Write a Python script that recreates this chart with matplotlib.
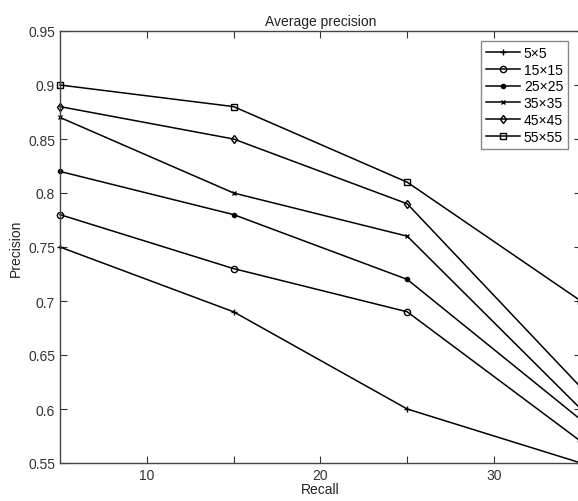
import matplotlib.pyplot as plt
from matplotlib.ticker import FixedLocator

plt.rcParams['font.family'] = ['Liberation Sans', 'DejaVu Sans']

recall = [5, 15, 25, 35]
labels = ['5×5', '15×15', '25×25', '35×35', '45×45', '55×55']
markers = ['+', 'o', '.', 'x', 'd', 's']
precision = [
    [0.75, 0.69, 0.60, 0.55],
    [0.78, 0.73, 0.69, 0.57],
    [0.82, 0.78, 0.72, 0.59],
    [0.87, 0.80, 0.76, 0.60],
    [0.88, 0.85, 0.79, 0.62],
    [0.90, 0.88, 0.81, 0.70],
]
yticks = [0.55, 0.6, 0.65, 0.7, 0.75, 0.8, 0.85, 0.9, 0.95]
ytick_labels = ['0.55', '0.6', '0.65', '0.7', '0.75', '0.8', '0.85', '0.9', '0.95']

fig = plt.figure(figsize=(5.78, 5.02), dpi=100)
# axes run slightly past the right edge, as in the cropped original
ax = fig.add_axes([59.9 / 578, 38 / 502, 521 / 578, 432 / 502])

for vals, lab, m in zip(precision, labels, markers):
    ms = 6 if m == '.' else (3.5 if m == 'x' else 4.5)
    ax.plot(recall, vals, color='black', linewidth=1.1, marker=m, markersize=ms,
            markerfacecolor='none' if m in 'ods' else 'black',
            markeredgecolor='black', markeredgewidth=1.0, label=lab, clip_on=False)

ax.set_xlim(5, 35)
ax.set_ylim(0.55, 0.95)
ax.set_xticks([10, 20, 30])
ax.xaxis.set_minor_locator(FixedLocator([15, 25]))
ax.set_yticks(yticks)
ax.set_yticklabels(ytick_labels)
ax.tick_params(which='both', direction='in', top=True, right=True, length=5,
               labelsize=10, colors='#333333', width=0.8)
for s in ax.spines.values():
    s.set_color('#444444')
    s.set_linewidth(1.0)

ax.set_title('Average precision', fontsize=10, color='#222222', pad=4)
ax.set_xlabel('Recall', fontsize=10, color='#222222', labelpad=0)
ax.set_ylabel('Precision', fontsize=10, color='#222222', labelpad=4)

leg = ax.legend(loc='upper right', bbox_to_anchor=(568 / 578, 1 - 42 / 502),
                bbox_transform=fig.transFigure, borderaxespad=0, fontsize=10,
                fancybox=False, framealpha=1, edgecolor='#888888',
                handlelength=2.4, handletextpad=0.3, labelspacing=0.2,
                borderpad=0.35)
leg.get_frame().set_linewidth(1.0)

fig.savefig('out.png', dpi=100)
